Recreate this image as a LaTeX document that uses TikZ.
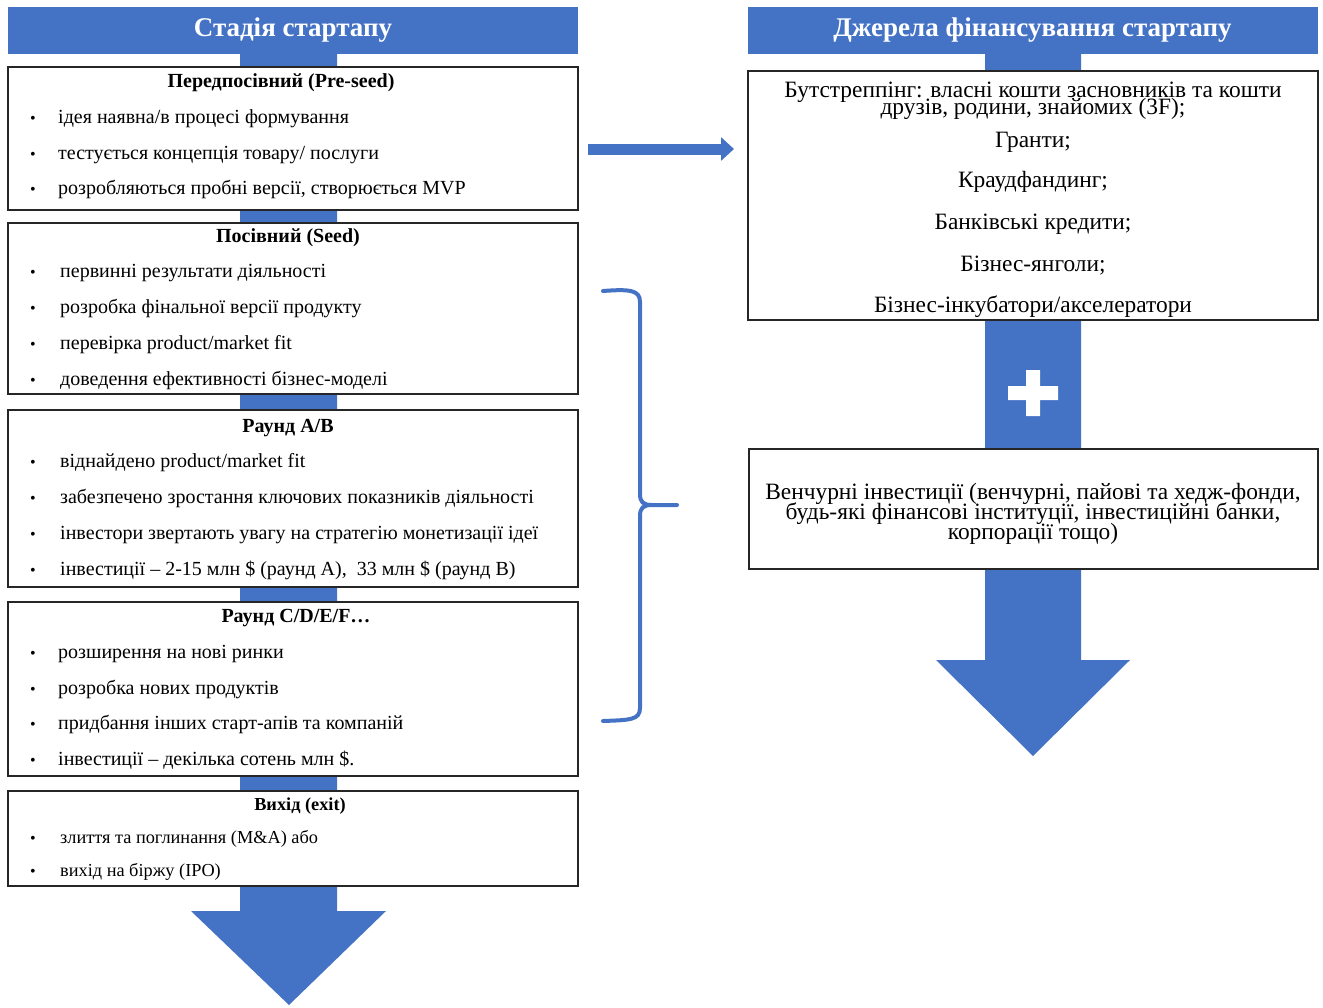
\documentclass[tikz,border=0pt]{standalone}
\usepackage{fontspec}
\setmainfont{Liberation Serif}
\usetikzlibrary{positioning,arrows.meta}
\definecolor{blu}{RGB}{68,114,196}
\newcommand\tightlines{\lineskiplimit-30pt\relax\lineskip0pt\relax}
\tikzset{
	hdr/.style={fill=blu, minimum width=570, minimum height=47, inner sep=0, text=white, font=\fontsize{27}{30}\selectfont\bfseries},
	stagebox/.style={draw=black!85, line width=1.3, fill=white, minimum width=570, inner sep=0},
	stitle/.style={anchor=base, inner sep=0, font=\fontsize{20}{22}\selectfont\bfseries},
	item/.style={anchor=base west, inner sep=0, font=\fontsize{20}{22}\selectfont},
	dot/.style={anchor=base, inner sep=0, font=\fontsize{16}{16}\selectfont},
	src/.style={align=center, inner sep=0, font=\fontsize{23.4}{17}\selectfont\tightlines},
}
\begin{document}
\begin{tikzpicture}[x=1pt,y=-1pt]
	\useasboundingbox (0,0) rectangle (1323,1007);
	%
	\def\bulx{33}
	\def\txtx{58}
	\def\bl{6.5}% centre of the line to its baseline
	%
	% spines with the big arrow heads
	\fill [blu] (240,54) -- (337,54) -- (337,911) -- (386,911) -- (289,1005) -- (191,911) -- (240,911) -- cycle;
	\fill [blu] (985,54) -- (1081,54) -- (1081,660) -- (1130,660) -- (1033,756) -- (936,660) -- (985,660) -- cycle;
	%
	% left column
	\node [hdr] (stage) at (293,30.5) {Стадія стартапу};
	\node [stagebox, minimum height=143] (pre) at (293,138.5) {};
	\node [stagebox, minimum height=171] (seed) at (293,308.5) {};
	\node [stagebox, minimum height=177] (ab) at (293,498.5) {};
	\node [stagebox, minimum height=174] (cdef) at (293,689) {};
	\node [stagebox, minimum height=95] (exit) at (293,838.5) {};
	%
	\node [stitle] (pre-t) at (281,81+\bl) {Передпосівний (Pre-seed)};
	\foreach \y/\txt in {117/{ідея наявна/в процесі формування},153/{тестується концепція товару/ послуги},188/{розробляються пробні версії, створюється MVP}}
		\node [dot] (pre-d\y) at (\bulx,\y+\bl) {•} node [item] (pre-\y) at (\txtx,\y+\bl) {\txt};
	%
	\node [stitle] (seed-t) at (288,236+\bl) {Посівний (Seed)};
	\foreach \y/\txt in {271/{первинні результати діяльності},307/{розробка фінальної версії продукту},343/{перевірка product/market fit},379/{доведення ефективності бізнес-моделі}}
		\node [dot] (seed-d\y) at (\bulx,\y+\bl) {•} node [item] (seed-\y) at (\txtx+2,\y+\bl) {\txt};
	%
	\node [stitle] (ab-t) at (288,426+\bl) {Раунд A/B};
	\foreach \y/\txt in {461/{віднайдено product/market fit},497/{забезпечено зростання ключових показників діяльності},533/{інвестори звертають увагу на стратегію монетизації ідеї},569/{інвестиції – 2-15 млн \$ (раунд A),\ \ 33 млн \$ (раунд B)}}
		\node [dot] (ab-d\y) at (\bulx,\y+\bl) {•} node [item] (ab-\y) at (\txtx+2,\y+\bl) {\txt};
	%
	\node [stitle] (cdef-t) at (296,616+\bl) {Раунд C/D/E/F…};
	\foreach \y/\txt in {652/{розширення на нові ринки},688/{розробка нових продуктів},723/{придбання інших старт-апів та компаній},759/{інвестиції – декілька сотень млн \$.}}
		\node [dot] (cdef-d\y) at (\bulx,\y+\bl) {•} node [item] (cdef-\y) at (\txtx,\y+\bl) {\txt};
	%
	\node [stitle, font=\fontsize{18.3}{20}\selectfont\bfseries] (exit-t) at (300,804+\bl) {Вихід (exit)};
	\foreach \y/\txt in {837/{злиття та поглинання (M\&A) або},870/{вихід на біржу (IPO)}}
		\node [dot] (exit-d\y) at (\bulx,\y+\bl) {•} node [item, font=\fontsize{18.3}{20}\selectfont] (exit-\y) at (\txtx+2,\y+\bl) {\txt};
	%
	% brace over the seed..cdef stages
	\draw [blu, line width=4, line join=round, line cap=round] (603,291) .. controls (630,289) and (640,290) .. (640,302) -- (640,494)
		.. controls (640,502) and (643,505) .. (652,505) -- (677,505)
		(652,505) .. controls (643,505) and (640,508) .. (640,516) -- (640,708)
		.. controls (640,720) and (630,720) .. (603,721);
	%
	% right column
	\node [hdr] (funds) at (1032.5,30.5) {Джерела фінансування стартапу};
	\node [stagebox, minimum height=249] (own) at (1033,195.5) {};
	\node [stagebox, minimum width=569, minimum height=120] (vc) at (1033.5,509) {};
	%
	\node [src] (own-t) at (1033,100.5) {Бутстреппінг: власні кошти засновників та кошти\\друзів, родини, знайомих (3F);};
	\foreach \y/\txt in {141/{Гранти;},181/{Краудфандинг;},223/{Банківські кредити;},265/{Бізнес-янголи;},306/{Бізнес-інкубатори/акселератори}}
		\node [src] (own-\y) at (1033,\y+1) {\txt};
	\node [src, font=\fontsize{23.4}{20}\selectfont\tightlines] (vc-t) at (1033,514) {Венчурні інвестиції (венчурні, пайові та хедж-фонди,\\будь-які фінансові інституції, інвестиційні банки,\\корпорації тощо)};
	%
	% plus between the two sources
	\fill [white] (1026,370) rectangle (1040,416) (1008,386) rectangle (1058,400);
	%
	% arrow from stages to sources
	\coordinate (a-from) at (588,149);
	\coordinate (a-to) at (734,149);
	\draw [blu, line width=11, -{Triangle[width=23, length=13]}] (a-from) -- (a-to);
\end{tikzpicture}
\end{document}
